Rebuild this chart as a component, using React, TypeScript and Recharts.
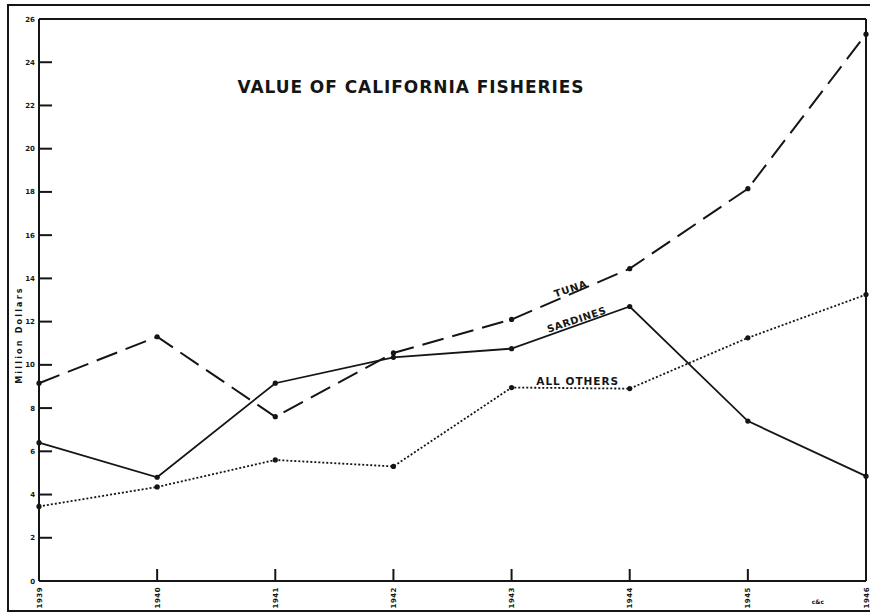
import React from "react";
import { LineChart, Line, XAxis, YAxis, ReferenceLine, ReferenceDot } from "recharts";

const years = [1939, 1940, 1941, 1942, 1943, 1944, 1945, 1946];
const tuna = [9.15, 11.3, 7.6, 10.55, 12.1, 14.45, 18.15, 25.3];
const sardines = [6.4, 4.8, 9.15, 10.35, 10.75, 12.7, 7.4, 4.85];
const allOthers = [3.45, 4.35, 5.6, 5.3, 8.95, 8.9, 11.25, 13.25];
const yTicks = [0, 2, 4, 6, 8, 10, 12, 14, 16, 18, 20, 22, 24, 26];

const data = years.map((year, i) => ({
  year,
  tuna: tuna[i],
  sardines: sardines[i],
  allOthers: allOthers[i],
}));

const INK = "#151515";
const FONT = "'DejaVu Sans', 'Liberation Sans', sans-serif";

const LeftTick = (props: any) => {
  const { x, y, payload } = props;
  const v = payload.value;
  return (
    <g>
      {v !== 0 && v !== 26 && (
        <line x1={x} y1={y} x2={x + 13} y2={y} stroke={INK} strokeWidth={2} />
      )}
      <text x={x - 4} y={y + 2.5} textAnchor="end" fontFamily={FONT} fontWeight="bold" fontSize={7} fill={INK}>
        {v}
      </text>
    </g>
  );
};

const RightTick = (props: any) => {
  const { x, y, payload } = props;
  const v = payload.value;
  if (v === 0 || v === 26) return <g />;
  return <line x1={x - 12} y1={y} x2={x} y2={y} stroke={INK} strokeWidth={2} />;
};

const BottomTick = (props: any) => {
  const { x, y, payload } = props;
  const v = payload.value;
  return (
    <g>
      {v !== 1939 && v !== 1946 && (
        <line x1={x} y1={y} x2={x} y2={y - 12} stroke={INK} strokeWidth={2} />
      )}
      <text
        x={x + 2.5}
        y={y + 6}
        transform={`rotate(-90 ${x + 2.5} ${y + 6})`}
        textAnchor="end"
        fontFamily={FONT}
        fontWeight="bold"
        fontSize={7}
        letterSpacing={0.5}
        fill={INK}
      >
        {v}
      </text>
    </g>
  );
};

const makeLabel = (text: string, angle: number, size: number, spacing: number) => (p: any) => (
  <text
    x={p.cx}
    y={p.cy}
    transform={`rotate(${angle} ${p.cx} ${p.cy})`}
    textAnchor="middle"
    fontFamily={FONT}
    fontWeight="bold"
    fontSize={size}
    letterSpacing={spacing}
    fill={INK}
  >
    {text}
  </text>
);

const Dot = (p: any) => <circle cx={p.cx} cy={p.cy} r={2.6} fill={INK} stroke="none" />;

export default function App() {
  return (
    <div style={{ position: "absolute", left: 0, top: 0, width: 870, height: 613, background: "#fff" }}>
      <LineChart width={870} height={613} data={data} margin={{ top: 19, right: 0, bottom: 0, left: 9 }}>
        <XAxis
          dataKey="year"
          type="number"
          domain={[1939, 1946]}
          ticks={years}
          height={32}
          tickSize={0}
          tickMargin={0}
          tickLine={false}
          axisLine={{ stroke: INK, strokeWidth: 2 }}
          tick={<BottomTick />}
          interval={0}
        />
        <YAxis
          yAxisId="l"
          type="number"
          domain={[0, 26]}
          ticks={yTicks}
          width={30}
          tickSize={0}
          tickMargin={0}
          tickLine={false}
          axisLine={{ stroke: INK, strokeWidth: 2 }}
          tick={<LeftTick />}
          interval={0}
        />
        <YAxis
          yAxisId="r"
          orientation="right"
          type="number"
          domain={[0, 26]}
          ticks={yTicks}
          width={4}
          tickSize={0}
          tickMargin={0}
          tickLine={false}
          axisLine={{ stroke: INK, strokeWidth: 2 }}
          tick={<RightTick />}
          interval={0}
        />
        <ReferenceLine yAxisId="l" y={26} stroke={INK} strokeWidth={2} />
        <Line
          yAxisId="l"
          type="linear"
          dataKey="tuna"
          stroke={INK}
          strokeWidth={2}
          strokeDasharray="22 9"
          dot={<Dot />}
          isAnimationActive={false}
        />
        <Line
          yAxisId="l"
          type="linear"
          dataKey="sardines"
          stroke={INK}
          strokeWidth={1.8}
          dot={<Dot />}
          isAnimationActive={false}
        />
        <Line
          yAxisId="l"
          type="linear"
          dataKey="allOthers"
          stroke={INK}
          strokeWidth={1.8}
          strokeDasharray="2 2"
          dot={<Dot />}
          isAnimationActive={false}
        />
        <ReferenceDot yAxisId="l" x={1943.51} y={13.37} r={0} shape={makeLabel("TUNA", -19, 10, 0.8)} />
        <ReferenceDot yAxisId="l" x={1943.56} y={11.94} r={0} shape={makeLabel("SARDINES", -18.5, 10, 0.6)} />
        <ReferenceDot yAxisId="l" x={1943.56} y={9.07} r={0} shape={makeLabel("ALL OTHERS", 0, 10.5, 1)} />
      </LineChart>
      <svg
        width={870}
        height={613}
        style={{ position: "absolute", left: 0, top: 0, pointerEvents: "none" }}
      >
        <rect x={8} y={5} width={900} height={606} fill="none" stroke={INK} strokeWidth={2} />
        <text
          x={411}
          y={93}
          textAnchor="middle"
          fontFamily={FONT}
          fontWeight="bold"
          fontSize={17}
          letterSpacing={0.95}
          fill={INK}
        >
          VALUE OF CALIFORNIA FISHERIES
        </text>
        <text
          x={22}
          y={335}
          transform="rotate(-90 22 335)"
          textAnchor="middle"
          fontFamily={FONT}
          fontWeight="bold"
          fontSize={8}
          letterSpacing={2.2}
          fill={INK}
        >
          Million Dollars
        </text>
        <text x={818} y={604} textAnchor="middle" fontFamily={FONT} fontWeight="bold" fontSize={6} fill={INK}>
          c&amp;c
        </text>
      </svg>
    </div>
  );
}
